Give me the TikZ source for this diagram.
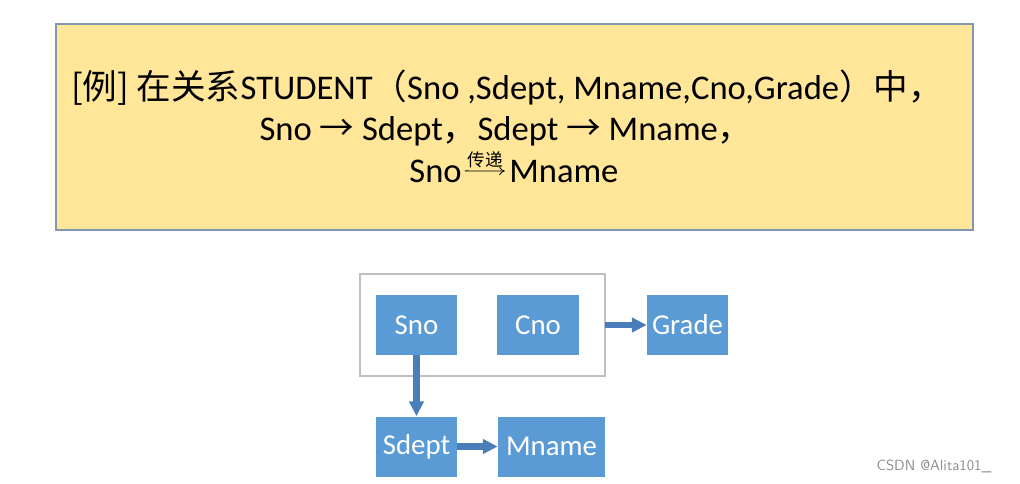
\documentclass[tikz,border=0pt]{standalone}
\usepackage{fontspec}
\setmainfont{Carlito}
\newfontfamily\cjk{Noto Sans CJK SC}
\usetikzlibrary{arrows.meta}

\definecolor{noteyellow}{HTML}{FFE699}
\definecolor{noteedge}{HTML}{8497B0}
\definecolor{attrblue}{HTML}{5B9BD5}
\definecolor{arrowblue}{HTML}{4A7EBB}
\definecolor{keygray}{HTML}{BFBFBF}

\tikzset{
  attr/.style={fill=attrblue,text=white,minimum width=2.025cm,minimum height=1.5cm,
    inner sep=0pt,font=\fontsize{20.5}{24}\selectfont},
  fd/.style={draw=arrowblue,line width=4.3pt,-{Triangle[length=10.5pt,width=10pt]}},
  notetext/.style={anchor=base,inner sep=0pt,font=\fontsize{24.6}{30}\selectfont}
}

\begin{document}
\begin{tikzpicture}[x=0.025cm,y=-0.025cm]

% Canvas
\useasboundingbox (0,0) rectangle (1020,483);

% Note box
\draw[noteedge,fill=noteyellow,line width=0.8pt] (56,24) rectangle (973,230);

\node[notetext] (line1) at (507,99)
  {{\cjk [例] 在关系}STUDENT{\cjk （}Sno ,Sdept, Mname,Cno,Grade{\cjk ）中，}};
\node[notetext] (line2) at (506,140)
  {Sno {\cjk →} Sdept{\cjk ，}Sdept {\cjk →} Mname{\cjk ，}};
\node[notetext,anchor=base east] (sno3) at (462,182) {Sno};
\node[notetext,anchor=base west] (mname3) at (509,182) {Mname};

% Transitive arrow
\draw[line width=0.6pt,-{To[length=4pt,width=6pt]},shorten <=2pt,shorten >=3pt] (sno3.east) --
  node[above=2pt,inner sep=0pt,font=\cjk\fontsize{12.5}{13}\selectfont] (relay) {传递} (mname3.west);

% Key box
\draw[keygray,line width=1pt] (360,274) rectangle (605,376);
\coordinate (key) at (605,325);

% Attributes
\node[attr] (sno)   at (416.5,325) {Sno};
\node[attr] (cno)   at (538,325)   {Cno};
\node[attr] (grade) at (687.5,325) {Grade};
\node[attr] (sdept) at (416.5,446.5) {Sdept};
\node[attr,minimum width=2.675cm] (mname) at (551.5,446.5) {Mname};

% Dependencies
\draw[fd] (key) -- (grade.west);
\draw[fd] (sno.south) -- (sdept.north);
\draw[fd] (sdept.east) -- (mname.west);

% Watermark
\node[text=black!45,font=\fontsize{10.5}{12}\selectfont\sffamily] (mark) at (934,466) {CSDN @Alita101\_};

\end{tikzpicture}
\end{document}
